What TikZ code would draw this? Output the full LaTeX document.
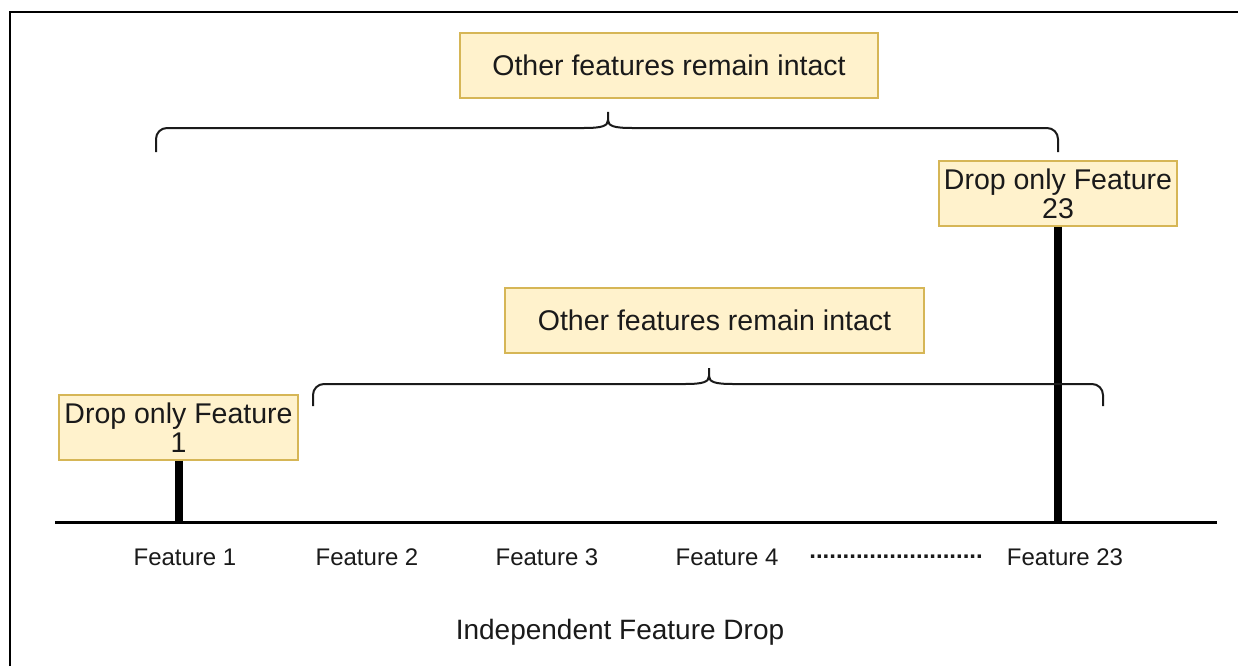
\documentclass[tikz,border=0pt]{standalone}
\usepackage{fontspec}
\setmainfont{Liberation Sans}
\definecolor{notefill}{HTML}{FFF2CC}
\definecolor{noteline}{HTML}{D6B656}
\definecolor{inkgray}{HTML}{1A1A1A}
% curly brace: #1 left x, #2 right x, #3 tip x, #4 bar y, #5 end y, #6 tip y
\newcommand\featbrace[6]{%
  \draw[bracestroke,rounded corners=11pt] (#1,#5) -- (#1,#4) -- (#3-24,#4);
  \draw[bracestroke] (#3-24,#4) .. controls (#3-6,#4) and (#3,#4-2) .. (#3,#4-8) -- (#3,#6);
  \draw[bracestroke] (#3,#4-8) .. controls (#3,#4-2) and (#3+6,#4) .. (#3+24,#4);
  \draw[bracestroke,rounded corners=11pt] (#3+24,#4) -- (#2,#4) -- (#2,#5);
}
\begin{document}
\begin{tikzpicture}[x=1pt,y=-1pt,
  note/.style={draw=noteline,fill=notefill,line width=1.2pt,inner sep=0pt,
    text=inkgray,align=center,font=\fontsize{28.5}{29}\selectfont},
  featlabel/.style={text=inkgray,font=\fontsize{24}{26}\selectfont,inner sep=0pt},
  bracestroke/.style={draw=inkgray,line width=2pt},
  stem/.style={draw=black,line width=8pt},
  axis/.style={draw=black,line width=3pt}]
\useasboundingbox (0,0) rectangle (1238,666);
\fill[white] (0,0) rectangle (1238,666);
% frame
\draw[line width=2pt,black] (10,666) -- (10,12) -- (1238,12);

% notes
\node[note,minimum width=418pt,minimum height=65pt] (keepA) at (669,65.5) {Other features remain intact};
\node[note,minimum width=419pt,minimum height=65pt] (keepB) at (714.5,320.5) {Other features remain intact};
\node[note,minimum width=238pt,minimum height=65pt] (dropL) at (1058,193.5) {Drop only Feature\\23};
\node[note,minimum width=239pt,minimum height=65pt] (dropF) at (178.5,427.5) {Drop only Feature\\1};

% feature axis
\coordinate (axL) at (55,522);
\coordinate (axR) at (1217,522);
\draw[axis] (axL) -- (axR);

% stems from the drop notes to the axis
\draw[stem] (dropF.south) -- (dropF.south |- axL);
\draw[stem] (dropL.south) -- (dropL.south |- axL);

% braces
\featbrace{156}{1058}{608}{128}{152}{112}
\featbrace{313}{1103}{709}{384}{406}{368}

% feature labels
\node[featlabel] (f1) at (185,557) {Feature 1};
\node[featlabel] (f2) at (367,557) {Feature 2};
\node[featlabel] (f3) at (547,557) {Feature 3};
\node[featlabel] (f4) at (727,557) {Feature 4};
\node[featlabel,font=\fontsize{24}{26}\selectfont\bfseries] (fdots) at (896,557) {..........................};
\node[featlabel] (f23) at (1065,557) {Feature 23};

% caption
\node[text=inkgray,font=\fontsize{28}{30}\selectfont,inner sep=0pt] (caption) at (620,632) {Independent Feature Drop};
\end{tikzpicture}
\end{document}
